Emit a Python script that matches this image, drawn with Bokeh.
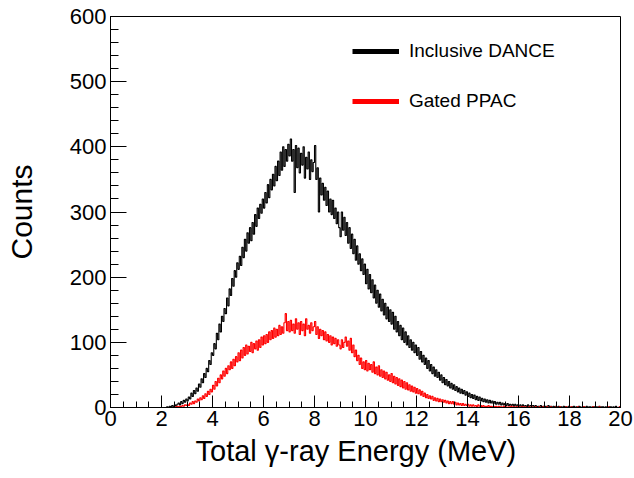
import numpy as np
from bokeh.plotting import figure
from bokeh.models import FixedTicker, Legend, LegendItem, Range1d, Title
from bokeh.embed import file_html
from bokeh.resources import INLINE

# ---- data (histogram counts, 0.05 MeV bins from 0 to 20 MeV) ----
bin_width = 0.05
x_min, x_max = 0.0, 20.0

inclusive_dance = (
    [0] * 44
    + [1, 0, 2, 1, 3, 1, 4, 2, 5, 7, 4, 9, 6, 11, 8, 13]
    + [10, 16, 13, 22, 17, 26, 21, 30, 25, 36, 31, 44, 38, 52, 46, 60, 55, 72, 66, 84]
    + [80, 98, 90, 114, 104, 128, 116, 140, 132, 152, 144, 168, 156, 182, 172, 198, 186, 210, 200, 222]
    + [212, 232, 218, 246, 230, 258, 240, 268, 252, 276, 256, 284, 266, 296, 278, 306, 290, 312, 298, 320]
    + [306, 330, 314, 342, 322, 350, 334, 358, 340, 370, 348, 378, 356, 392, 364, 400, 370, 396, 378, 404]
    + [386, 412, 378, 396, 330, 402, 368, 398, 360, 390, 372, 400, 352, 384, 366, 392, 350, 380, 362, 376]
    + [402, 350, 368, 300, 352, 326, 344, 318, 338, 310, 332, 300, 320, 296, 318, 290, 306, 282, 300, 276]
    + [262, 300, 272, 292, 264, 284, 252, 276, 244, 266, 236, 258, 226, 248, 220, 236, 210, 228, 204, 220]
    + [190, 212, 182, 204, 176, 196, 168, 188, 160, 180, 154, 174, 148, 166, 142, 160, 136, 154, 132, 150]
    + [128, 146, 120, 140, 116, 132, 110, 126, 104, 122, 100, 116, 96, 110, 92, 104, 88, 100, 84, 96]
    + [80, 92, 74, 86, 70, 80, 66, 76, 60, 72, 56, 66, 52, 62, 48, 58, 46, 54, 42, 50]
    + [38, 46, 35, 43, 33, 40, 30, 37, 28, 35, 26, 32, 24, 30, 22, 28, 21, 26, 19, 24]
    + [17, 22, 15, 20, 14, 19, 12, 17, 11, 16, 10, 14, 9, 13, 8, 12, 7, 11, 7, 10]
    + [6, 9, 5, 8, 5, 8, 4, 7, 4, 6, 3, 6, 3, 5, 3, 5, 2, 5, 2, 4]
    + [2, 4, 1, 4, 2, 3, 1, 4, 1, 3, 2, 3, 1, 3, 1, 2, 1, 3, 1, 2]
    + [1, 2, 0, 3, 1, 2, 0, 2, 1, 2, 0, 2, 1, 1, 0, 2, 1, 1, 0, 2]
    + [0, 1, 1, 2, 0, 1, 0, 2, 1, 0, 1, 1, 0, 2, 0, 1, 1, 0, 1, 1]
    + [0, 1, 0, 2, 0, 1, 1, 0, 1, 0, 0, 1, 1, 0, 1, 0, 2, 0, 0, 1]
)

gated_ppac = (
    [0] * 50
    + [1, 0, 2, 1, 2, 1, 3, 2, 4, 3]
    + [5, 3, 7, 5, 9, 6, 10, 8, 13, 10, 15, 12, 18, 14, 21, 17, 25, 20, 28, 24]
    + [34, 28, 40, 33, 45, 38, 50, 44, 56, 48, 60, 52, 64, 58, 70, 60, 74, 64, 78, 70]
    + [84, 72, 88, 76, 92, 80, 96, 82, 94, 86, 100, 84, 98, 90, 102, 88, 104, 92, 108, 96]
    + [110, 98, 112, 100, 116, 104, 118, 106, 122, 108, 120, 110, 126, 112, 124, 114, 130, 144, 118, 132]
    + [116, 134, 118, 128, 114, 136, 120, 130, 112, 132, 118, 128, 110, 136, 120, 126, 114, 130, 118, 124]
    + [132, 112, 124, 106, 120, 110, 118, 104, 116, 102, 112, 100, 110, 96, 108, 98, 106, 94, 104, 96]
    + [90, 104, 92, 100, 108, 94, 102, 88, 106, 84, 96, 78, 88, 72, 80, 66, 76, 60, 70, 58]
    + [72, 56, 68, 58, 66, 54, 70, 52, 62, 50, 64, 48, 58, 46, 56, 44, 54, 42, 50, 40]
    + [52, 38, 48, 36, 46, 34, 44, 32, 42, 30, 40, 28, 38, 27, 35, 25, 33, 24, 31, 22]
    + [29, 21, 27, 19, 25, 17, 22, 15, 20, 14, 18, 13, 17, 11, 15, 10, 14, 9, 13, 9]
    + [12, 8, 11, 7, 10, 6, 9, 6, 9, 5, 8, 4, 7, 4, 6, 3, 6, 3, 5, 3]
    + [5, 2, 4, 2, 4, 2, 3, 1, 4, 2, 3, 1, 3, 1, 2, 1, 3, 1, 2, 1]
    + [2, 1, 2, 0, 2, 1, 1, 0, 2, 1, 1, 0, 1, 1, 2, 0, 1, 0, 1, 1]
    + [1, 0, 1, 1, 0, 1, 0, 0, 1, 0, 1, 0, 0, 1, 0, 0, 1, 0, 0, 1]
    + [0, 0, 1, 0, 0, 1, 0, 0, 0, 1, 0, 0, 1, 0, 0, 0, 0, 1, 0, 0]
    + [0, 1, 0, 0, 0, 0, 1, 0, 0, 0, 0, 1, 0, 0, 0, 0, 0, 0, 1, 0]
    + [0, 0, 0, 1, 0, 0, 0, 0, 0, 0, 1, 0, 0, 0, 0, 0, 0, 0, 0, 1]
)

series_labels = ["Inclusive DANCE", "Gated PPAC"]
x_label = "Total γ-ray Energy (MeV)"
y_label = "Counts"
x_ticks = [0, 2, 4, 6, 8, 10, 12, 14, 16, 18, 20]
y_ticks = [0, 100, 200, 300, 400, 500, 600]

FONT = "Liberation Sans"


def step_arrays(counts):
    c = np.array(counts, dtype=float)
    edges = np.round(x_min + bin_width * np.arange(len(c) + 1), 4)
    return edges, np.append(c, c[-1])


p = figure(
    width=634, height=478,
    output_backend="svg", toolbar_location=None,
    x_range=Range1d(x_min, x_max), y_range=Range1d(0, 600),
    min_border_left=110, min_border_right=14,
    min_border_top=16, min_border_bottom=71,
)
p.background_fill_color = "white"
p.border_fill_color = "white"
p.outline_line_color = "black"
p.outline_line_width = 1
p.xgrid.visible = False
p.ygrid.visible = False

bx, by = step_arrays(inclusive_dance)
rx, ry = step_arrays(gated_ppac)
p.step(x=bx, y=by, mode="after", line_color="black", line_width=1.1)
p.step(x=rx, y=ry, mode="after", line_color="#ff0000", line_width=1.1)

# legend samples (kept outside the visible ranges, only used for the legend glyphs)
leg_black = p.line(x=[-10, -9], y=[-100, -100], line_color="black", line_width=5)
leg_red = p.line(x=[-10, -9], y=[-100, -100], line_color="#ff0000", line_width=5)
legend = Legend(
    items=[LegendItem(label=series_labels[0], renderers=[leg_black]),
           LegendItem(label=series_labels[1], renderers=[leg_red])],
    location=(242, 295), orientation="vertical",
    glyph_width=47, glyph_height=20, label_height=20, spacing=28,
    padding=0, margin=0, label_standoff=10,
    border_line_alpha=0, background_fill_alpha=0,
    label_text_font=FONT, label_text_font_size="19px", label_text_color="black",
)
p.add_layout(legend)

# x axis
xa = p.xaxis[0]
xa.ticker = FixedTicker(ticks=x_ticks, minor_ticks=[i * 0.5 for i in range(41)])
xa.major_label_text_font = FONT
xa.major_label_text_font_size = "22px"
xa.major_label_text_color = "black"
xa.major_label_standoff = 3
xa.major_tick_in = 12
xa.major_tick_out = 0
xa.minor_tick_in = 6
xa.minor_tick_out = 0
xa.axis_line_color = "black"
xa.major_tick_line_color = "black"
xa.minor_tick_line_color = "black"

# x axis title (slightly left of the frame centre, as in the original)
p.add_layout(Title(
    text=x_label, align="left", offset=85, standoff=9,
    text_font=FONT, text_font_size="29px", text_font_style="normal", text_color="black",
), "below")

# y axis
ya = p.yaxis[0]
ya.ticker = FixedTicker(ticks=y_ticks, minor_ticks=list(range(0, 601, 20)))
ya.axis_label = y_label
ya.axis_label_text_font = FONT
ya.axis_label_text_font_size = "30px"
ya.axis_label_text_font_style = "normal"
ya.axis_label_text_color = "black"
ya.axis_label_standoff = 29
ya.major_label_text_font = FONT
ya.major_label_text_font_size = "22px"
ya.major_label_text_color = "black"
ya.major_label_standoff = 4
ya.major_tick_in = 16
ya.major_tick_out = 0
ya.minor_tick_in = 8
ya.minor_tick_out = 0
ya.axis_line_color = "black"
ya.major_tick_line_color = "black"
ya.minor_tick_line_color = "black"

open("out.html", "w").write(file_html(p, INLINE))
